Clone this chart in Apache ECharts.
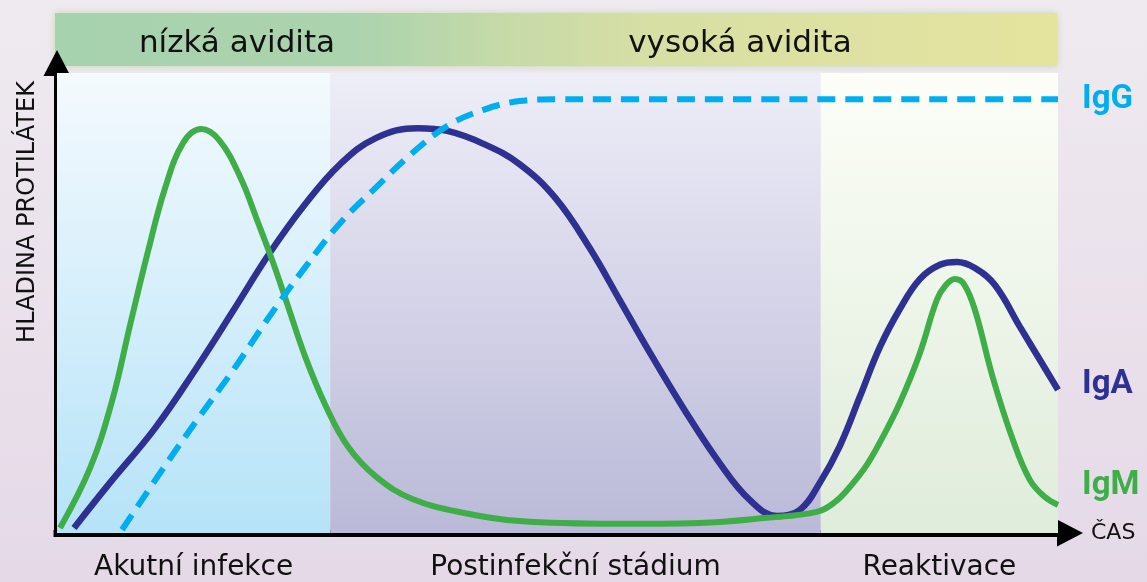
<!DOCTYPE html>
<html><head><meta charset="utf-8">
<script src="https://cdn.jsdelivr.net/npm/echarts@6/dist/echarts.min.js"></script>
<style>html,body{margin:0;padding:0;background:#ebe3ec;}#c{width:1147px;height:582px;}</style>
</head><body><div id="c"></div>
<script>
// ---- data (time 0..100, level 0..100) ----
const phaseNames = ['Akutní infekce', 'Postinfekční stádium', 'Reaktivace'];
const phaseBounds = [0, 27.3, 76.3, 100];
const avidityNames = ['nízká avidita', 'vysoká avidita'];
const seriesNames = ['IgA', 'IgM', 'IgG'];
const xAxisName = 'ČAS';
const yAxisName = 'HLADINA PROTILÁTEK';

const igM = [[0.3,1.1],[3.3,14.1],[5.5,28.7],[7.3,45.2],[9.1,61.3],[10.8,75.0],[12.6,84.8],[14.4,87.8],[16.2,85.4],[18.3,77.4],[20.1,67.4],[21.6,58.7],[23.0,49.8],[24.8,38.3],[26.9,27.4],[29.1,18.7],[31.9,12.2],[35.5,7.4],[40.8,4.3],[46.2,2.6],[55.7,2.0],[64.2,2.2],[70.9,3.3],[75.9,4.6],[77.7,6.7],[79.2,10.0],[80.9,14.8],[82.5,20.9],[84.2,28.3],[86.2,39.1],[87.9,50.7],[88.8,53.9],[89.7,55.2],[90.6,54.1],[91.7,48.5],[93.5,33.7],[95.5,20.2],[97.2,11.5],[98.7,7.8],[100,6.1]];
const igA = [[1.7,1.1],[5.1,10.4],[9.8,22.8],[14.0,36.1],[17.6,48.3],[21.2,60.7],[24.8,71.5],[28.3,80.2],[31.9,85.9],[36.0,88.0],[39.0,87.4],[42.6,84.6],[46.2,80.2],[49.8,72.8],[53.2,62.0],[56.2,50.7],[59.2,39.3],[62.7,26.7],[66.2,15.2],[69.2,7.2],[71.9,3.7],[74.2,5.0],[76.2,10.9],[78.2,18.9],[80.2,29.6],[82.2,40.4],[84.2,48.7],[86.2,55.2],[88.2,58.3],[89.9,58.9],[91.7,57.6],[93.7,53.9],[96.2,44.8],[98.2,37.6],[100,31.1]];
const igG = [[6.5,0.7],[10.5,13.7],[14.0,24.6],[17.6,35.4],[21.2,47.0],[24.8,57.8],[28.3,67.4],[31.9,75.2],[35.5,82.6],[39.0,88.5],[42.6,92.0],[46.2,93.9],[49.8,94.3],[54.2,94.3],[100,94.3]];

// ---- styles ----
const COL_M = '#3fae49', COL_A = '#2e3192', COL_G = '#00aeef';
const FONT = '"DejaVu Sans", sans-serif';
const BOLD = 'Roboto, "DejaVu Sans", sans-serif';
function vgrad(top, bottom) {
  return {type:'linear', x:0, y:0, x2:0, y2:1, colorStops:[{offset:0,color:top},{offset:1,color:bottom}]};
}
const phaseColors = [vgrad('#f4fafe', '#b6e3f8'), vgrad('#eeeef8', '#bab9d8'), vgrad('#fcfef7', '#dfecdb')];

const chart = echarts.init(document.getElementById('c'), null, {renderer:'canvas'});
const areaData = phaseNames.map((n, i) => [
  {name:n, xAxis:phaseBounds[i], itemStyle:{color:phaseColors[i]}},
  {xAxis:phaseBounds[i+1]}
]);

function lineSeries(name, data, color, width, type, labelOffset) {
  return {
    type:'line', name, data, smooth:0.4, symbol:'none', z: 3,
    lineStyle:{color, width, type, cap:'butt'},
    endLabel:{show:true, formatter:name, color, fontSize:33, fontWeight:'bold', fontFamily:BOLD, distance:24, offset:labelOffset}
  };
}

const s1 = lineSeries(seriesNames[0], igA, COL_A, 6.5, 'solid', [0,-5]);
s1.markArea = {silent:true, data:areaData, label:{show:true, position:'bottom', distance:21, color:'#111', fontSize:28, fontFamily:FONT}};
const s2 = lineSeries(seriesNames[1], igM, COL_M, 6, 'solid', [0,-19]);
const s3 = lineSeries(seriesNames[2], igG, COL_G, 6, [18,10], [0,1]);

chart.setOption({
  animation:false,
  backgroundColor: vgrad('#efeaf0', '#e5d9e7'),
  grid:{left:57, right:89, top:73, bottom:49, containLabel:false, outerBoundsMode:'none'},
  xAxis:{type:'value', min:0, max:100, splitLine:{show:false}, axisTick:{show:false}, axisLabel:{show:false},
    axisLine:{show:true, onZero:false, symbol:['none','triangle'], symbolSize:[27,26], symbolOffset:[0,12], lineStyle:{color:'#000', width:7, cap:'square'}},
    name:xAxisName, nameLocation:'end', nameGap:33, nameTextStyle:{color:'#111', fontSize:22, fontFamily:FONT, verticalAlign:'middle'}},
  yAxis:{type:'value', min:0, max:100, splitLine:{show:false}, axisTick:{show:false}, axisLabel:{show:false},
    axisLine:{show:true, onZero:false, symbol:['none','triangle'], symbolSize:[27,26], symbolOffset:[0,10], lineStyle:{color:'#000', width:7, cap:'square'}}},
  series:[s1, s2, s3],
  graphic:[
    {type:'rect', z:-1, shape:{x:55, y:13, width:1002, height:53},
      style:{fill:{type:'linear', x:0, y:0, x2:1, y2:0, colorStops:[
        {offset:0, color:'#a7d2ae'},{offset:0.3, color:'#abd3ad'},{offset:0.45, color:'#c6daa8'},{offset:0.6, color:'#d7dfa4'},{offset:1, color:'#e5e49e'}]},
        shadowBlur:7, shadowColor:'rgba(190,215,165,0.9)'}},
    {type:'text', x:237, y:44, style:{text:avidityNames[0], fill:'#111', font:'31px '+FONT, textAlign:'center', textVerticalAlign:'middle'}},
    {type:'text', x:740, y:44, style:{text:avidityNames[1], fill:'#111', font:'31px '+FONT, textAlign:'center', textVerticalAlign:'middle'}},
    {type:'text', x:28, y:212, rotation:Math.PI/2, style:{text:yAxisName, fill:'#111', font:'24px '+FONT, textAlign:'center', textVerticalAlign:'middle'}}
  ]
});
</script></body></html>
